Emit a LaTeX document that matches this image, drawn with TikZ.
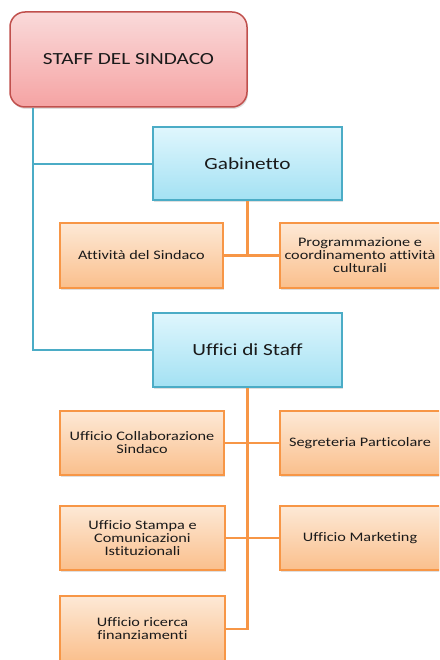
\documentclass[tikz,border=0pt]{standalone}
\usepackage{fontspec}
\setmainfont{Carlito}[FakeStretch=1.25, Ligatures={NoCommon,NoContextual}]
\usepackage{tikz}
\usetikzlibrary{positioning, shadows}
\definecolor{redline}{HTML}{C0504D}
\definecolor{redtop}{HTML}{FADADA}
\definecolor{redbot}{HTML}{F5A3A3}
\definecolor{blueline}{HTML}{4BACC6}
\definecolor{bluetop}{HTML}{DFF6FD}
\definecolor{bluebot}{HTML}{A3E1F3}
\definecolor{orangeline}{HTML}{F79646}
\definecolor{orangetop}{HTML}{FDE9D6}
\definecolor{orangebot}{HTML}{FABF8C}
\definecolor{ink}{HTML}{1A1A1A}
\tikzset{
	head/.style={
			rectangle, rounded corners=15pt, draw=redline, line width=1.5pt,
			top color=redtop, bottom color=redbot, text=ink,
			drop shadow={shadow xshift=1pt, shadow yshift=-2pt, opacity=0.25},
			minimum width=237pt, minimum height=95pt, font=\fontsize{17}{20}\selectfont},
	dept/.style={
			rectangle, draw=blueline, line width=2pt,
			top color=bluetop, bottom color=bluebot, text=ink,
			drop shadow={shadow xshift=1pt, shadow yshift=-2pt, opacity=0.25},
			minimum width=189pt, minimum height=73pt, font=\fontsize{17}{20}\selectfont},
	office/.style={
			rectangle, draw=orangeline, line width=1.5pt,
			top color=orangetop, bottom color=orangebot, text=ink,
			drop shadow={shadow xshift=1pt, shadow yshift=-2pt, opacity=0.25},
			minimum width=164pt, minimum height=64pt, align=center,
			font=\fontsize{13}{13}\selectfont},
	teal/.style={draw=blueline, line width=2.5pt},
	link/.style={draw=orangeline, line width=2.5pt},
		}
\begin{document}
\begin{tikzpicture}[x=1pt, y=-1pt]
		\useasboundingbox (0,0) rectangle (439,660);
		\clip (0,0) rectangle (439,660);

		\node[head] (sindaco) at (128.5,59.5) {STAFF DEL SINDACO};

		\node[dept] (gabinetto) at (247.5,164) {Gabinetto};
		\node[office, minimum width=163pt, minimum height=65pt] (attivita) at (141.5,255.5) {Attività del Sindaco};
		\node[office, minimum width=160pt, minimum height=65pt] (programmazione) at (360,255.5)
			{Programmazione e\\coordinamento attività\\culturali};

		\node[dept, minimum height=74pt] (uffici) at (247.5,350) {Uffici di Staff};
		\node[office] (collaborazione) at (142,443) {Ufficio Collaborazione\\Sindaco};
		\node[office, minimum width=160pt] (segreteria) at (360,443) {Segreteria Particolare};
		\node[office, minimum width=165pt] (stampa) at (142.5,538) {Ufficio Stampa e\\Comunicazioni\\Istituzionali};
		\node[office, minimum width=160pt] (marketing) at (360,538) {Ufficio Marketing};
		\node[office, minimum width=165pt, minimum height=66pt] (ricerca) at (142.5,629) {Ufficio ricerca\\finanziamenti};

		\coordinate (trunk) at (33,0);
%
		\path[teal] (sindaco.south -| trunk) |- (uffici.west);
		\path[teal] (trunk |- gabinetto.west) -- (gabinetto.west);
%
		\path[link] (gabinetto.south) -- (gabinetto.south |- attivita.east);
		\path[link] (attivita.east) -- (programmazione.west);
%
		\path[link] (uffici.south) |- (ricerca.east);
		\path[link] (collaborazione.east) -- (segreteria.west);
		\path[link] (stampa.east) -- (marketing.west);
%
\end{tikzpicture}
\end{document}
